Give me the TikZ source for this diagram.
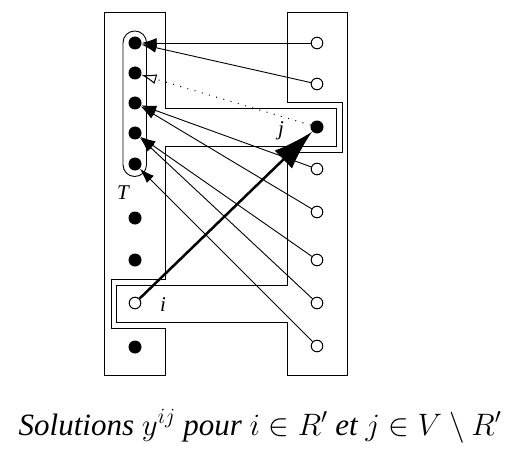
\documentclass[tikz,border=0pt]{standalone}
\usepackage{fix-cm}
\usepackage{fontspec}
\setmainfont{Liberation Serif}
\usetikzlibrary{arrows.meta}
\begin{document}
\begin{tikzpicture}[x=1pt,y=-1pt,
  panel/.style={draw,line width=0.9pt},
  blk/.style={circle,fill=black,inner sep=0pt,minimum size=13pt},
  wht/.style={circle,draw,fill=white,inner sep=0pt,minimum size=11.5pt,line width=0.9pt},
  arr/.style={line width=0.9pt,-{Latex[length=15pt,width=10pt]}},
  dotarr/.style={line width=1pt,dash pattern=on 1pt off 6.5pt,-{Latex[open,length=15pt,width=10pt]}},
  thickarr/.style={line width=2.5pt,-{Latex[length=40pt,width=25pt]}},
  lab/.style={font=\fontsize{21}{24}\selectfont\itshape,inner sep=0pt}]
\useasboundingbox (0,0) rectangle (526,449);
% left shape (black nodes)
\draw[panel] (104,12) -- (165,12) -- (165,108) -- (336,108) -- (336,146) -- (165,146)
  -- (165,279) -- (111,279) -- (111,328) -- (165,328) -- (165,375) -- (104,375) -- cycle;
% right shape (white nodes)
\draw[panel] (287,12) -- (347,12) -- (347,375) -- (287,375) -- (287,322) -- (116,322)
  -- (116,285) -- (287,285) -- (287,152) -- (342,152) -- (342,102) -- (287,102) -- cycle;
% capsule T
\draw[panel,rounded corners=11.7pt] (123,31) rectangle (146.5,176.5);
% left nodes
\node[blk] (l1) at (135,43) {};
\node[blk] (l2) at (135,73) {};
\node[blk] (l3) at (135,103) {};
\node[blk] (l4) at (135,133) {};
\node[blk] (l5) at (135,164) {};
\node[blk] (l6) at (135,218) {};
\node[blk] (l7) at (135,260) {};
\node[wht] (i) at (135,303) {};
\node[blk] (l9) at (135,347) {};
% right nodes
\node[wht] (r1) at (317,43) {};
\node[wht] (r2) at (317,84) {};
\node[blk] (j) at (317,127) {};
\node[wht] (r4) at (317,169) {};
\node[wht] (r5) at (317,212) {};
\node[wht] (r6) at (317,260) {};
\node[wht] (r7) at (317,303) {};
\node[wht] (r8) at (317,346) {};
% arrows
\draw[arr] (r1) -- (l1);
\draw[arr] (r2) -- (l1);
\draw[dotarr] (j) -- (l2);
\draw[arr] (r4) -- (l3);
\draw[arr] (r5) -- (l3);
\draw[arr] (r6) -- (l4);
\draw[arr] (r7) -- (l4);
\draw[arr] (r8) -- (l5);
\draw[thickarr] (i) -- (j);
% redraw white nodes on top
\foreach \n in {r1,r2,r4,r5,r6,r7,r8,i} \path (\n) node[wht] {};
% labels
\node[lab] (tlab) at (123,193) {T};
\node[lab] (jlab) at (281,131) {j};
\node[lab] (ilab) at (163,305) {i};
\node[anchor=base,inner sep=0pt,font=\fontsize{31}{36}\selectfont\itshape] (cap) at (260,435)
  {Solutions $y^{ij}$ pour $i\in R'$ et $j\in V\setminus R'$};
\end{tikzpicture}
\end{document}
